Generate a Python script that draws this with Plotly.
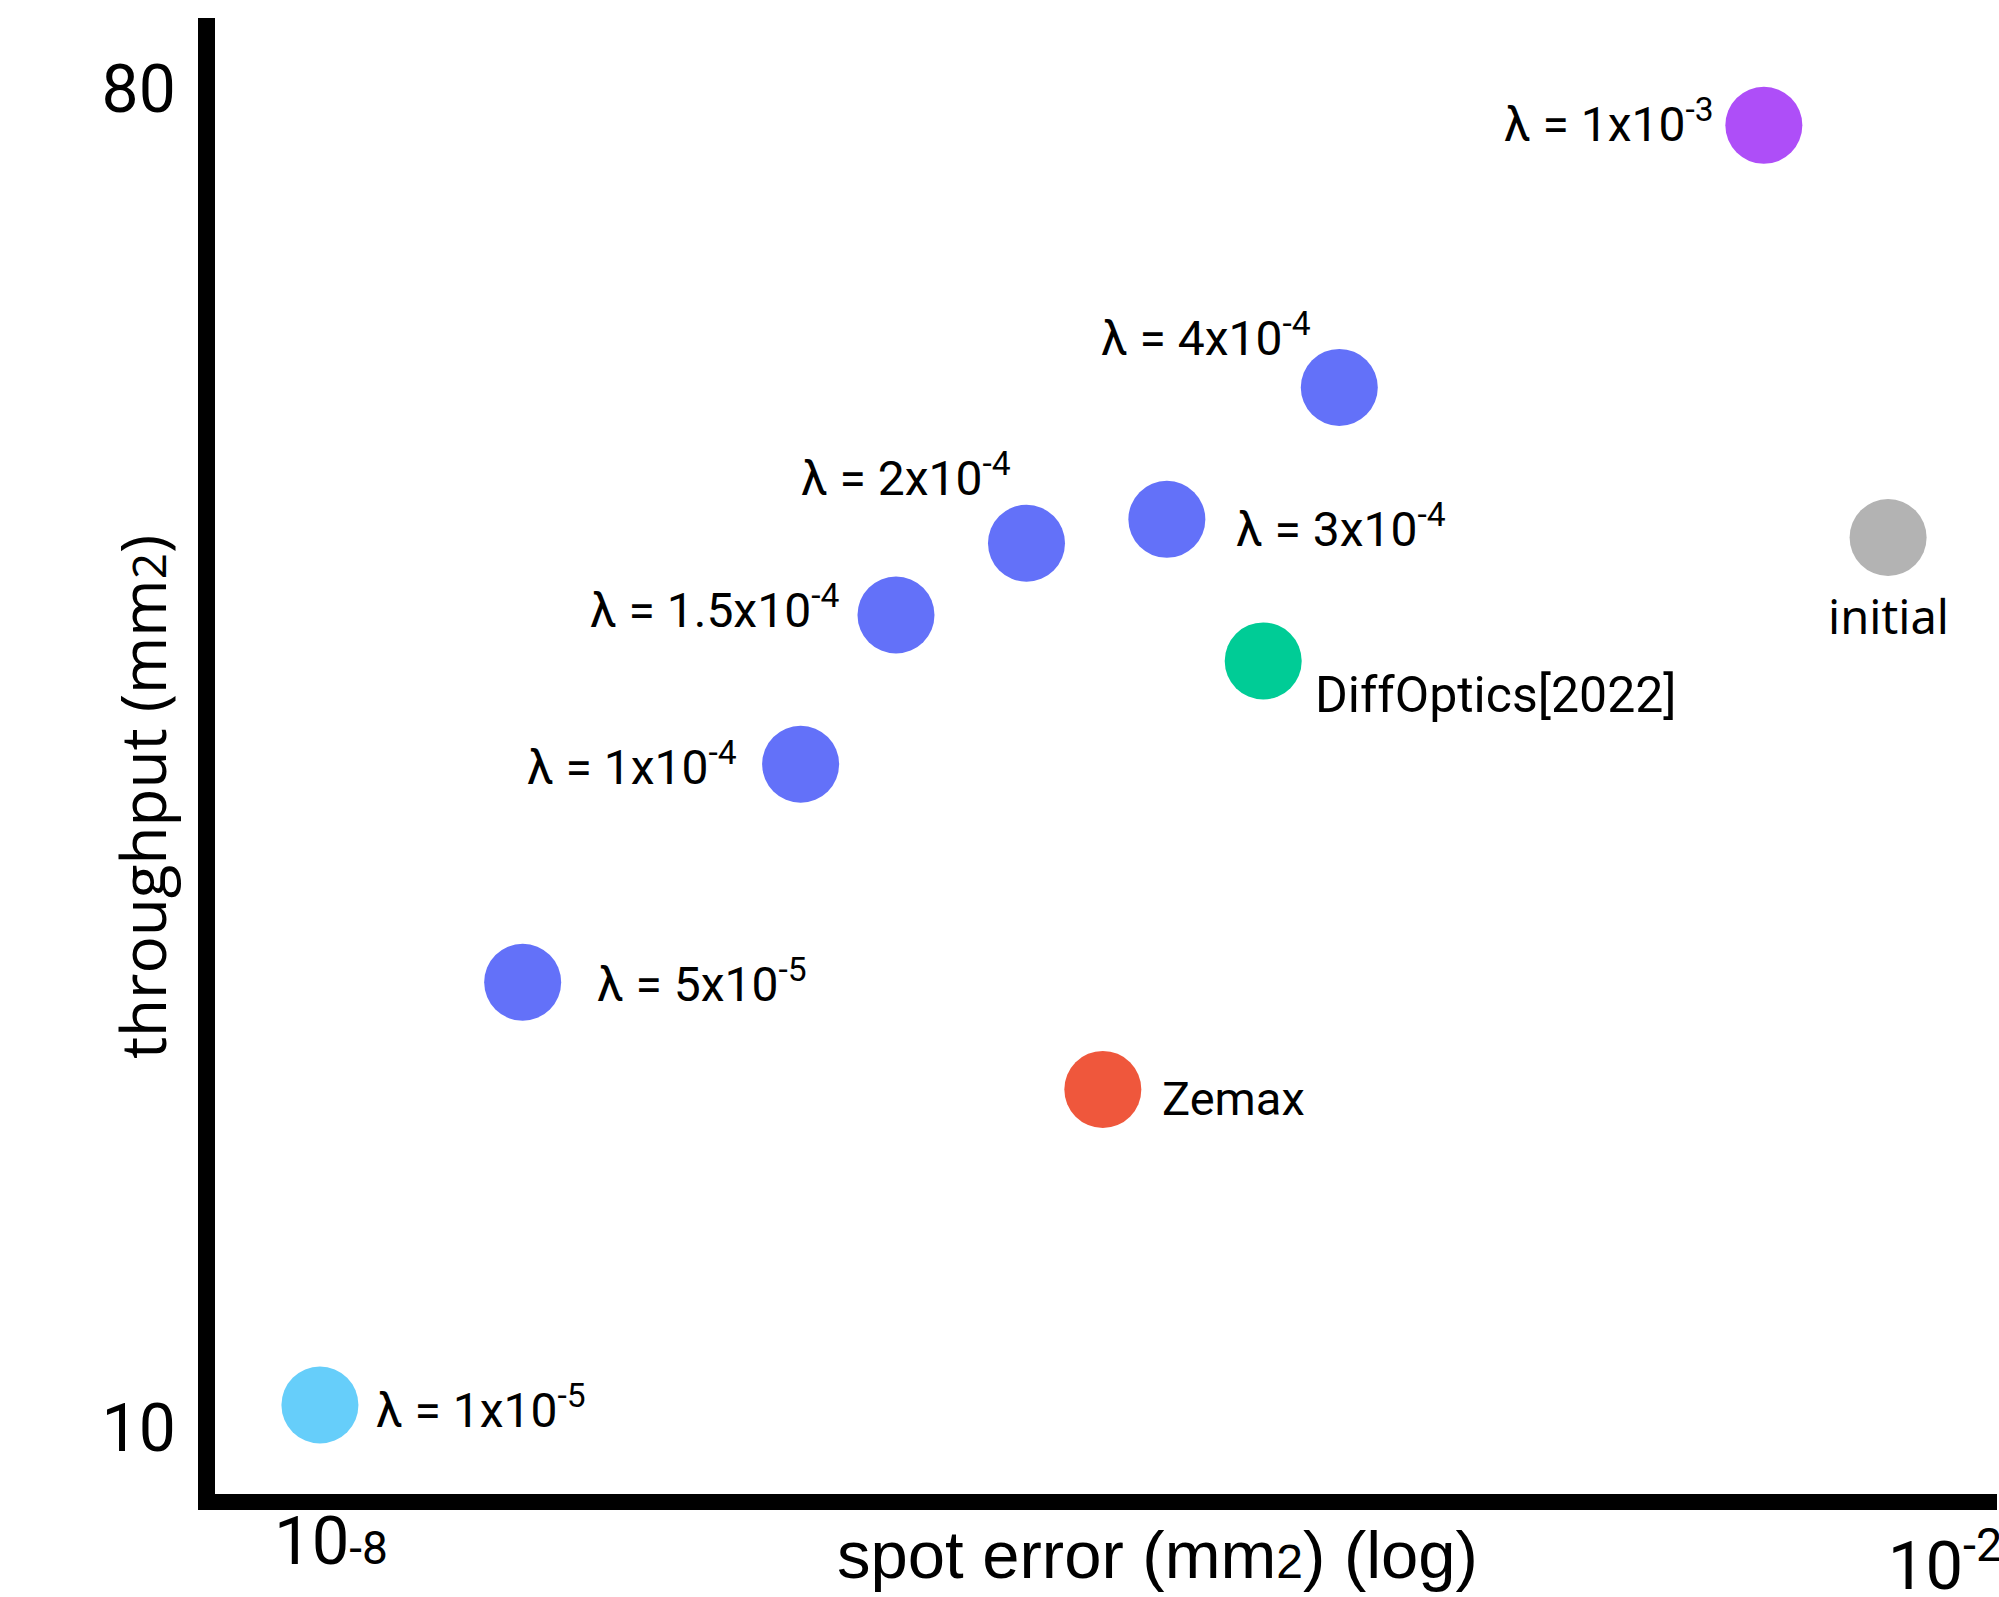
import math
import plotly.graph_objects as go

# ---- data ----
lam_labels = ["λ = 1x10<sup>-5</sup>", "λ = 5x10<sup>-5</sup>", "λ = 1x10<sup>-4</sup>",
              "λ = 1.5x10<sup>-4</sup>", "λ = 2x10<sup>-4</sup>", "λ = 3x10<sup>-4</sup>",
              "λ = 4x10<sup>-4</sup>", "λ = 1x10<sup>-3</sup>"]
lam_spot_error = [9.1e-9, 5.16e-8, 5.57e-7, 1.26e-6, 3.85e-6, 1.28e-5, 5.6e-5, 2.12e-3]
lam_throughput = [11.2, 33.3, 44.7, 52.5, 56.25, 57.5, 64.4, 78.1]

ref_labels = ["initial", "DiffOptics[2022]", "Zemax"]
ref_spot_error = [6.14e-3, 2.92e-5, 7.4e-6]
ref_throughput = [56.55, 50.1, 27.7]

x_tickvals_main = [1e-8]
x_ticktext_main = ["10<span style='font-size:46px'>-8</span>"]
x_tickvals_end = [1e-2]
x_ticktext_end = ["10<sup>-2</sup>"]
y_tickvals = [10, 80]
y_ticktext = ["10", "80"]

# ---- styles ----
lam_colors = ["#66CEFA", "#6371F9", "#6371F9", "#6371F9", "#6371F9", "#6371F9", "#6371F9", "#AE4EF8"]
ref_colors = ["#B3B3B3", "#00CC96", "#EF573C"]
# (xanchor, xshift, yshift) for each label
lam_label_pos = [("left", 54, -2), ("left", 72, 1), ("right", -62, 0), ("right", -55, 8),
                 ("right", -13, 68), ("left", 67, -7), ("right", -26, 52), ("right", -48, 4)]
ref_label_pos = [("center", 0, -78), ("left", 50, -34), ("left", 57, -9)]
ref_fonts = ["Noto Sans", "Roboto", "Roboto"]
ref_sizes = [47, 50, 47]
MARKER = 77

fig = go.Figure()
fig.add_trace(go.Scatter(x=lam_spot_error, y=lam_throughput, mode="markers",
                         marker=dict(size=MARKER, color=lam_colors, line=dict(width=0)),
                         showlegend=False, hoverinfo="skip"))
# reference methods drawn on the overlaying x axis (same range) that carries the 10^-2 tick
fig.add_trace(go.Scatter(x=ref_spot_error, y=ref_throughput, mode="markers",
                         xaxis="x2", yaxis="y",
                         marker=dict(size=MARKER, color=ref_colors, line=dict(width=0)),
                         showlegend=False, hoverinfo="skip"))

annotations = []
for txt, xv, yv, (xa, dx, dy) in zip(lam_labels, lam_spot_error, lam_throughput, lam_label_pos):
    annotations.append(dict(x=math.log10(xv), y=yv, xref="x", yref="y", text=txt, showarrow=False,
                            xanchor=xa, yanchor="middle", xshift=dx, yshift=dy,
                            font=dict(family="Roboto", size=48, color="black")))
for txt, xv, yv, (xa, dx, dy), fam, fs in zip(ref_labels, ref_spot_error, ref_throughput,
                                              ref_label_pos, ref_fonts, ref_sizes):
    annotations.append(dict(x=math.log10(xv), y=yv, xref="x", yref="y", text=txt, showarrow=False,
                            xanchor=xa, yanchor="middle", xshift=dx, yshift=dy,
                            font=dict(family=fam, size=fs, color="black")))
# axis titles
annotations.append(dict(x=0.529, y=0, xref="paper", yref="paper",
                        text="spot error (mm<span style='font-size:48px'>2</span>) (log)",
                        showarrow=False, xanchor="center", yanchor="middle", yshift=-60,
                        font=dict(family="Liberation Sans Narrow, Liberation Sans", size=67, color="black")))
annotations.append(dict(x=0, y=0.5, xref="paper", yref="paper",
                        text="throughput (mm<span style='font-size:46px'>2</span>)",
                        showarrow=False, xanchor="center", yanchor="middle", xshift=-73, yshift=-41,
                        textangle=-90,
                        font=dict(family="Open Sans", size=62, color="black")))

LOG_RANGE = [-8.431, -1.807]
fig.update_layout(
    template="none",
    width=1999, height=1597,
    margin=dict(l=215, r=2, t=18, b=103, pad=0),
    plot_bgcolor="white", paper_bgcolor="white",
    showlegend=False,
    annotations=annotations,
    xaxis=dict(type="log", range=LOG_RANGE, showline=True, linewidth=16, linecolor="black",
               automargin=False, showgrid=False, zeroline=False, ticks="",
               tickvals=x_tickvals_main, ticktext=x_ticktext_main, ticklabelstandoff=-26,
               ticklabeloverflow="allow",
               tickfont=dict(family="Roboto", size=67, color="black")),
    xaxis2=dict(type="log", range=LOG_RANGE, overlaying="x", anchor="y", side="bottom",
                automargin=False, showline=False, showgrid=False, zeroline=False, ticks="",
                tickvals=x_tickvals_end, ticktext=x_ticktext_end, ticklabelstandoff=27,
                ticklabeloverflow="allow",
                tickfont=dict(family="Roboto", size=67, color="black")),
    yaxis=dict(range=[6.55, 83.71], showline=True, linewidth=17, linecolor="black",
               automargin=False, showgrid=False, zeroline=False, ticks="",
               tickvals=y_tickvals, ticktext=y_ticktext, ticklabelstandoff=9,
               tickfont=dict(family="Roboto", size=66, color="black")),
)

fig.write_html("out.html")
